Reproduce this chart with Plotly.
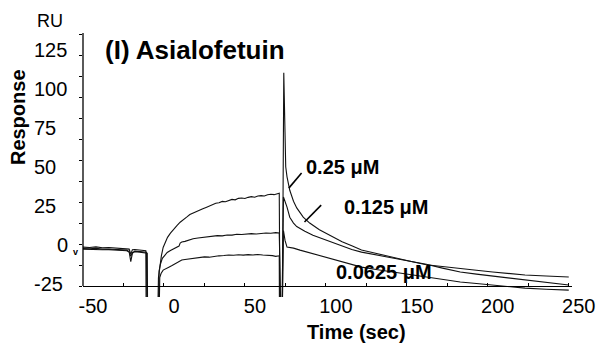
import plotly.graph_objects as go

# ---- sensorgram traces: time (sec) vs response (RU) ----
t_025 = [-50, -46, -42, -38, -34, -30, -26, -23, -21.5, -20.5, -19.5, -18, -15, -12.5, -11.2,
         -10.9, -4.2, -3.4, -2.6, -1.6, -0.5, 0.8, 2.2, 4, 6, 8, 10, 12, 14, 16, 18, 20, 22, 24,
         26, 28, 30, 32, 34, 36, 38, 40, 42, 44, 46, 48, 50, 52, 54, 56, 58, 60, 62, 64, 66, 68,
         70, 71.2, 71.8, 73.0, 74.0, 74.6, 75.2, 76, 77.7, 80, 82, 86, 90, 96, 102, 110, 116,
         122, 132, 142, 152, 162, 172, 183, 193, 203, 213, 223, 236, 250]
r_025 = [-1.8, -2.0, -1.7, -2.2, -2.0, -2.4, -2.6, -2.8, -3.0, -6.0, -3.4, -3.2, -3.6, -3.8, -4.0,
         -60, -60, -20, -13, -7, -2, 1.5, 4, 6.5, 9, 11, 13, 14.8, 16, 17.6, 18.5, 19.2, 20.5, 21,
         21.8, 22.6, 23.4, 24.3, 24.6, 25.4, 25.2, 26, 26.6, 26.3, 27.2, 27.4, 27.1, 27.8, 28.2,
         27.9, 28.6, 28.8, 28.6, 29.3, 29.6, 29.4, 30.0, 30.2, -60, -60, 102, 60, 46, 40, 32, 25.5,
         21.5, 16, 12.5, 8.5, 5.4, 1.4, -1, -3.5, -5.8, -7.8, -10.2, -12.3, -13.5, -14.4, -15.6,
         -16.6, -17.6, -18.4, -19.0, -19.6]

t_0125 = [-50, -46, -42, -38, -34, -30, -26, -23, -21.5, -20.5, -19.5, -18, -15, -12.5, -10.8,
          -10.4, -3.8, -3.0, -2.2, -1, 0.5, 2, 4, 6, 8, 9.3, 10, 11, 13, 15, 18, 21, 24, 27, 30,
          33, 36, 39, 42, 45, 48, 51, 54, 57, 60, 63, 66, 69, 71.2, 71.6, 72.6, 73.8, 74.6, 76,
          77.7, 80, 82, 84, 87, 92, 97, 102, 110, 116, 122, 132, 142, 152, 162, 172, 183, 193,
          203, 213, 223, 236, 250]
r_0125 = [-2.6, -2.8, -2.5, -3.0, -2.9, -3.2, -3.4, -3.6, -4.5, -10.5, -5.5, -4.2, -4.4, -4.6, -4.8,
          -60, -60, -16, -12, -8.5, -6.5, -5, -3.8, -2.8, -1.8, -1.2, 0.6, 1.2, 1.6, 2.2, 3.2, 3.6,
          3.9, 4.5, 4.4, 5.0, 4.9, 5.4, 5.3, 5.8, 5.7, 6.0, 6.2, 6.0, 6.4, 6.6, 6.4, 6.8, 6.6, -60,
          -60, 28, 26, 22, 16, 12.5, 10.4, 9.2, 7.6, 5.2, 3.4, 1.4, -1.4, -3.2, -4.8, -6.8, -8.4,
          -10.2, -12.0, -14.3, -16.6, -17.9, -19.0, -20.3, -21.4, -23.0, -24.4]

t_00625 = [-50, -46, -42, -38, -34, -30, -26, -23, -21.5, -20.5, -19.5, -18, -15, -12.5, -10.3,
           -10.0, -3.3, -2.6, -1.8, -0.5, 1, 3, 5, 7, 9, 10.3, 11, 13, 16, 19, 22, 25, 28, 31,
           34, 37, 40, 43, 46, 49, 52, 55, 58, 61, 64, 67, 69, 71.2, 71.4, 72.8, 73.8, 74.8, 76,
           80, 84, 90, 96, 102, 112, 122, 132, 142, 152, 162, 172, 183, 193, 203, 213, 223, 236,
           250]
r_00625 = [-3.0, -3.2, -3.0, -3.4, -3.3, -3.6, -3.8, -4.0, -4.8, -7.2, -5.0, -4.6, -4.8, -5.2, -5.5,
           -60, -60, -20, -17.5, -15.5, -14.6, -13.8, -12.8, -11.8, -10.7, -9.8, -9.5, -9.2, -8.8,
           -8.4, -8.0, -7.6, -7.8, -7.2, -7.0, -6.8, -6.5, -6.7, -6.4, -6.6, -6.3, -6.5, -6.2,
           -6.5, -6.6, -6.9, -7.3, -7.0, -60, -60, 8, 2, -1.8, -2.4, -3.6, -5.2, -6.8, -8.3, -11.2,
           -13.7, -15.3, -16.7, -18.0, -19.6, -21.0, -22.6, -23.5, -24.4, -25.3, -26.2, -26.9,
           -27.4]

conc_labels = ["0.25 μM", "0.125 μM", "0.0625 μM"]
x_tick_vals = [-50, 0, 50, 100, 150, 200, 250]
x_minor_vals = [-25, 25, 75, 125, 175, 225]
y_tick_vals = [-25, 0, 25, 50, 75, 100, 125]
y_minor_vals = [-12.5, 12.5, 37.5, 62.5, 87.5, 112.5]

# ---- axes geometry ----
X_RANGE = [-50, 252]
Y_RANGE = [-31.5, 125.6]          # plot area reaches a little below the -25 baseline axis
LABEL_Y_RANGE = [-33.3, 135.9]    # scale used to place the response labels
FONT = "Arial, Liberation Sans, sans-serif"
INK = "#111111"

fig = go.Figure()
for t, r in [(t_025, r_025), (t_0125, r_0125), (t_00625, r_00625)]:
    fig.add_trace(go.Scatter(x=t, y=r, mode="lines", showlegend=False, hoverinfo="skip",
                             line=dict(color=INK, width=1.1)))

x_axis_pos = (-25 - Y_RANGE[0]) / (Y_RANGE[1] - Y_RANGE[0])

fig.update_layout(
    width=607, height=344, autosize=False,
    margin=dict(l=83, r=27, t=33, b=47),
    paper_bgcolor="white", plot_bgcolor="white",
    font=dict(family=FONT, color="black"),
    xaxis=dict(range=X_RANGE, anchor="free", position=x_axis_pos,
               showline=True, linecolor="black", linewidth=1.3,
               ticks="inside", ticklen=3, tickcolor="black", tickwidth=1,
               tickvals=x_tick_vals, ticktext=[str(v) for v in x_tick_vals],
               tickfont=dict(size=20), ticklabelshift=10, ticklabelstandoff=2,
               minor=dict(tickvals=x_minor_vals, ticks="inside", ticklen=3, tickcolor="black"),
               showgrid=False, zeroline=False, fixedrange=True),
    yaxis=dict(range=Y_RANGE, showline=False,
               ticks="outside", ticklen=3, tickcolor="black", tickwidth=1,
               tickvals=y_tick_vals, showticklabels=False,
               minor=dict(tickvals=y_minor_vals, ticks="outside", ticklen=3, tickcolor="black"),
               showgrid=False, zeroline=False, fixedrange=True),
    yaxis2=dict(range=LABEL_Y_RANGE, overlaying="y", visible=False, fixedrange=True),
)

# left axis line, from the baseline up to the top of the plot
fig.add_shape(type="line", xref="paper", yref="y", x0=0, x1=0, y0=-25, y1=Y_RANGE[1],
              line=dict(color="black", width=1.3))

# response tick labels, left-aligned beside the axis
for v in y_tick_vals:
    fig.add_annotation(xref="paper", yref="y2", x=0, y=v, text=str(v), showarrow=False,
                       xanchor="left", yanchor="middle", xshift=-28 if v == 0 else -51,
                       font=dict(size=20))


def label(x, y, text, size, bold=False, angle=0):
    fig.add_annotation(xref="paper", yref="paper", x=x, y=y,
                       text=f"<b>{text}</b>" if bold else text,
                       showarrow=False, xanchor="center", yanchor="middle",
                       textangle=angle, font=dict(size=size))


# titles
label(-0.0684, 1.0455, "RU", 18)
label(-0.1328, 0.6818, "Response", 20, bold=True, angle=-90)
label(0.2294, 0.9356, "(I) Asialofetuin", 26, bold=True)
label(0.5594, -0.1326, "Time (sec)", 20, bold=True)

# small tick mark beside the zero label
label(-0.0161, 0.1705, "v", 9, bold=True)

# concentration labels with leader lines
label_pos = [(0.531, 0.492), (0.6207, 0.3409), (0.6164, 0.0947)]
for (px, py), txt in zip(label_pos, conc_labels):
    label(px, py, txt, 20, bold=True)

leaders = [((85.0, 42.3), (77.1, 33.3)), ((97.1, 23.2), (86.8, 13.1))]
for (x0, y0), (x1, y1) in leaders:
    fig.add_shape(type="line", xref="x", yref="y", x0=x0, y0=y0, x1=x1, y1=y1,
                  line=dict(color="black", width=1.6))

fig.write_html("out.html")
